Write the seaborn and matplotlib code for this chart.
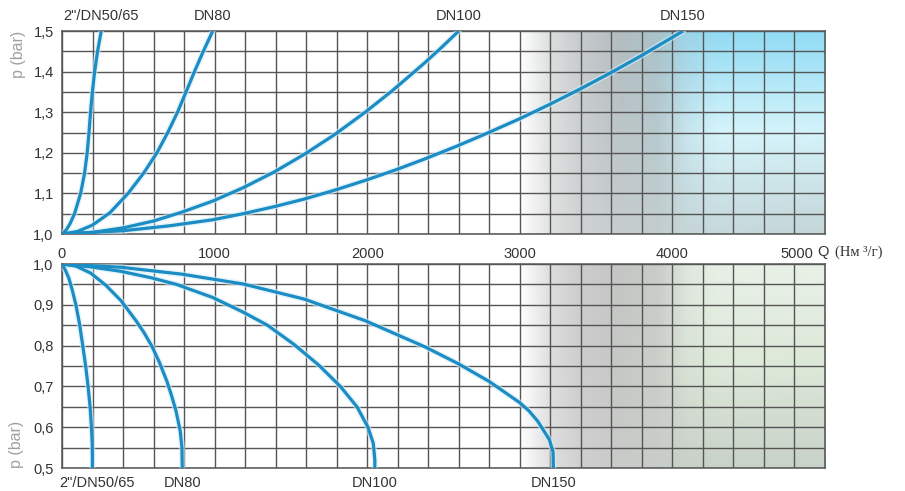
import numpy as np
import pandas as pd
import matplotlib
matplotlib.use("Agg")
import matplotlib.pyplot as plt
import matplotlib.transforms as mtransforms
from matplotlib.colors import to_rgb
import seaborn as sns

# ---- data -----------------------------------------------------------------
sizes = ['2"/DN50/65', "DN80", "DN100", "DN150"]

# upper chart: pressure rise vs flow
q_up_2in = [0, 28, 52, 82, 122, 148, 165, 177, 187, 199, 214, 233, 257]
p_up_2in = [1.0, 1.01, 1.025, 1.05, 1.1, 1.15, 1.2, 1.25, 1.3, 1.35, 1.4, 1.45, 1.5]
q_up_80 = [0, 100, 200, 313, 433, 535, 622, 693, 757, 813, 868, 926, 988]
p_up_80 = [1.0, 1.006, 1.022, 1.052, 1.1, 1.15, 1.2, 1.25, 1.3, 1.35, 1.4, 1.45, 1.5]
q_up_100 = [0, 200, 400, 600, 787, 987, 1187, 1387, 1587, 1787, 1987, 2161, 2270, 2378, 2480, 2600]
p_up_100 = [1.0, 1.004, 1.015, 1.032, 1.054, 1.081, 1.114, 1.152, 1.196, 1.245, 1.3, 1.352, 1.387,
            1.422, 1.457, 1.5]
q_up_150 = [0, 400, 700, 987, 1187, 1387, 1587, 1787, 1987, 2187, 2378, 2578, 2760,
            3000, 3200, 3400, 3600, 3800, 4070]
p_up_150 = [1.0, 1.008, 1.02, 1.035, 1.05, 1.067, 1.086, 1.108, 1.132, 1.158, 1.185, 1.215, 1.244,
            1.284, 1.32, 1.358, 1.398, 1.44, 1.5]

# lower chart: vacuum vs flow
q_lo_2in = [0, 22, 45, 68, 91, 114, 136, 155, 171, 184, 193, 198, 199, 199]
p_lo_2in = [1.0, 0.985, 0.965, 0.935, 0.9, 0.855, 0.8, 0.75, 0.7, 0.65, 0.6, 0.56, 0.53, 0.5]
q_lo_80 = [0, 90, 187, 287, 387, 487, 537, 587, 637, 687, 720, 747, 775, 786, 788]
p_lo_80 = [1.0, 0.995, 0.978, 0.948, 0.91, 0.86, 0.832, 0.8, 0.76, 0.713, 0.675, 0.64, 0.59, 0.55, 0.5]
q_lo_100 = [0, 187, 387, 587, 750, 987, 1187, 1346, 1520, 1683, 1824, 1933, 2005, 2040, 2050, 2050]
p_lo_100 = [1.0, 0.993, 0.982, 0.966, 0.95, 0.918, 0.882, 0.85, 0.803, 0.752, 0.7, 0.65, 0.6, 0.56, 0.52, 0.5]
q_lo_150 = [0, 387, 787, 1187, 1587, 1987, 2378, 2600, 2800, 3000, 3060, 3117, 3193, 3218, 3220]
p_lo_150 = [1.0, 0.992, 0.975, 0.951, 0.914, 0.861, 0.797, 0.755, 0.712, 0.66, 0.64, 0.615, 0.57, 0.54, 0.5]

upper = [(q_up_2in, p_up_2in), (q_up_80, p_up_80), (q_up_100, p_up_100), (q_up_150, p_up_150)]
lower = [(q_lo_2in, p_lo_2in), (q_lo_80, p_lo_80), (q_lo_100, p_lo_100), (q_lo_150, p_lo_150)]

x_major = [0, 1000, 2000, 3000, 4000, 5000]
y_up_ticks = [1.0, 1.1, 1.2, 1.3, 1.4, 1.5]
y_lo_ticks = [0.5, 0.6, 0.7, 0.8, 0.9, 1.0]


def frame(curves):
    rows = []
    for name, (q, p) in zip(sizes, curves):
        for i, (qq, pp) in enumerate(zip(q, p)):
            rows.append({"size": name, "Q": qq, "p": pp, "i": i})
    return pd.DataFrame(rows)


df_up = frame(upper)
df_lo = frame(lower)

# ---- style ----------------------------------------------------------------
sns.set_theme(style="white")
SANS = ["Liberation Sans", "DejaVu Sans"]
plt.rcParams["font.family"] = SANS
TXT = "#333333"
GRID = "#555555"
LINE = "#1c8cc4"
HALO = "#d2eef9"
FS = 10.5

fig = plt.figure(figsize=(9.05, 4.91), dpi=100)
ax_up = fig.add_axes([62 / 905, 1 - 234 / 491, 763 / 905, 203 / 491])
ax_lo = fig.add_axes([62 / 905, 1 - 468 / 491, 763 / 905, 204 / 491])


def background(ax, y0, y1, stops, rows):
    """Shaded zone on the right part of the grid, built from colour stops."""
    w, h = 600, 120
    xs = np.linspace(0, 5000, w)
    row_cols = []
    for cols in rows:
        rgb = np.array([to_rgb(c) for c in cols])
        row_cols.append(np.stack([np.interp(xs, stops, rgb[:, k]) for k in range(3)], axis=-1))
    row_cols = np.array(row_cols)          # (nrows, w, 3), top row first
    fr = np.linspace(0, 1, h)
    pos = np.linspace(0, 1, len(rows))
    img = np.empty((h, w, 3))
    for k in range(3):
        for j in range(w):
            img[:, j, k] = np.interp(fr, pos, row_cols[:, j, k])
    ax.imshow(img, extent=(0, 5000, y0, y1), origin="upper", aspect="auto",
              zorder=0, interpolation="bilinear")


stops = [0, 3000, 3200, 3400, 3650, 3900, 4100, 4300, 5000]
background(ax_up, 1.0, 1.5, stops, [
    ["#ffffff", "#ffffff", "#dcdede", "#c6cacb", "#b3bdc1", "#a9c2ca", "#9cd4e8", "#92dbf4", "#90dcf5"],
    ["#ffffff", "#ffffff", "#dfe1e1", "#cbcfd0", "#bcc5c8", "#b8cace", "#c8e6ee", "#d6f4fb", "#d4f3fa"],
    ["#ffffff", "#ffffff", "#e0e1e1", "#cfd2d2", "#c7cdce", "#c3cdce", "#c6d6d8", "#c6d8da", "#c4d6d8"],
])
background(ax_lo, 0.5, 1.0, stops, [
    ["#ffffff", "#ffffff", "#dcdddc", "#cbcccb", "#c4c6c4", "#c9ccc8", "#dfe8dd", "#e8f0e6", "#e9f1e7"],
    ["#ffffff", "#ffffff", "#dddedd", "#cccdcc", "#c6c8c6", "#cbcfca", "#d8e3d5", "#dde9d9", "#dce8d8"],
    ["#ffffff", "#ffffff", "#dedfde", "#cfd0cf", "#c9cbc9", "#c8ccc8", "#c8d1c7", "#c8d2c8", "#c8d2c8"],
])

for ax, df, ylim, yt in [(ax_up, df_up, (1.0, 1.5), y_up_ticks), (ax_lo, df_lo, (0.5, 1.0), y_lo_ticks)]:
    for name in sizes:
        d = df[df["size"] == name]
        sns.lineplot(data=d, x="Q", y="p", sort=False, estimator=None, ax=ax,
                     color=HALO, lw=4.4, alpha=0.6, zorder=3, solid_joinstyle="round")
        sns.lineplot(data=d, x="Q", y="p", sort=False, estimator=None, ax=ax,
                     color=LINE, lw=2.3, zorder=4, solid_capstyle="butt", solid_joinstyle="round")
    ax.set_xlim(0, 5000)
    ax.set_ylim(*ylim)
    ax.set_xticks(x_major)
    ax.set_xticks(np.arange(0, 5001, 200), minor=True)
    ax.set_yticks(yt)
    ax.set_yticks(np.arange(ylim[0], ylim[1] + 0.001, 0.05), minor=True)
    ax.set_yticklabels([f"{v:.1f}".replace(".", ",") for v in yt], fontsize=FS, color=TXT)
    ax.grid(True, which="both", color=GRID, lw=1.0)
    ax.set_axisbelow(True)
    ax.tick_params(which="both", length=0, pad=6)
    ax.set_xlabel("")
    ax.set_ylabel("")
    for s in ax.spines.values():
        s.set_color(GRID)
        s.set_linewidth(1.1)
        s.set_visible(True)

ax_lo.set_xticklabels([])
ax_up.set_xticklabels([str(v) for v in x_major], fontsize=FS, color=TXT)
ax_up.tick_params(axis="x", pad=9)
last = ax_up.get_xticklabels()[-1]
last.set_transform(last.get_transform() + mtransforms.ScaledTranslation(-28 / 100, 0, fig.dpi_scale_trans))

fig.text(817 / 905, 1 - 252 / 491, "Q", fontsize=FS, color=TXT, ha="left", va="center", family=SANS)
fig.text(835 / 905, 1 - 252 / 491, "(Нм ³/г)", fontsize=FS, color=TXT, ha="left", va="center",
         family=["Liberation Serif", "DejaVu Serif"])

# size labels at the curve ends
for name, (q, p) in zip(sizes, upper):
    ax_up.annotate(name, xy=(q[-1], p[-1]), xytext=(0, 10.5), textcoords="offset points",
                   ha="center", va="center", fontsize=FS, color=TXT, annotation_clip=False)
for name, (q, p) in zip(sizes, lower):
    ax_lo.annotate(name, xy=(q[-1], p[-1]), xytext=(3 if name.startswith("2") else 0, -10.5),
                   textcoords="offset points", ha="center", va="center", fontsize=FS,
                   color=TXT, annotation_clip=False)

fig.text(18 / 905, 1 - 54 / 491, "p (bar)", rotation=90, fontsize=11.5, color="#a0a0a0",
         ha="center", va="center", family=SANS)
fig.text(17 / 905, 1 - 444 / 491, "p (bar)", rotation=90, fontsize=11.5, color="#a0a0a0",
         ha="center", va="center", family=SANS)

fig.savefig("out.png", dpi=100)
